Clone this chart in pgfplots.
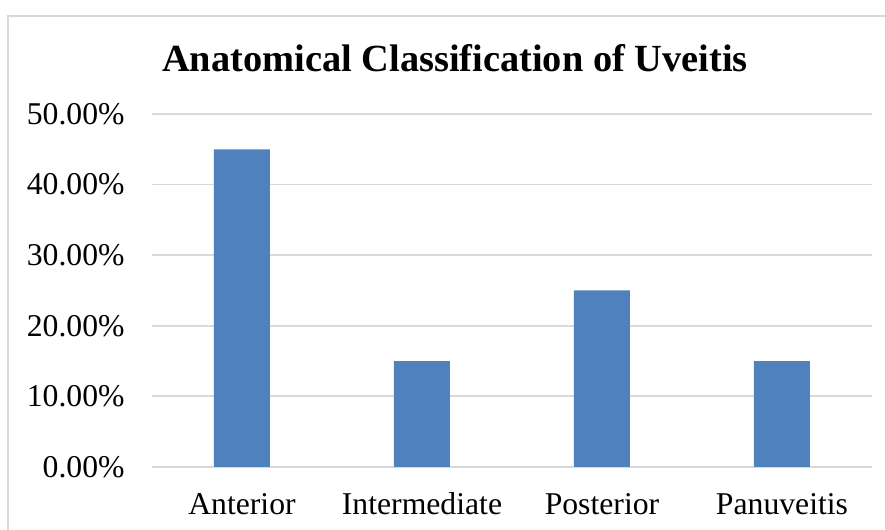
\documentclass[border=0pt]{standalone}
\usepackage{pgfplots}
\pgfplotsset{compat=1.18}
\usepackage{fontspec}
\setmainfont{Liberation Serif}
\definecolor{barblue}{HTML}{4F81BD}
\definecolor{gridgray}{HTML}{D9D9D9}
\begin{document}
\begin{tikzpicture}
\begin{axis}[
  at={(0,0)}, anchor=south west,
  scale only axis, width=360pt, height=176.5pt,
  xmin=-0.5, xmax=3.5, ymin=0, ymax=50,
  axis line style={draw=none},
  major tick length=0pt,
  xtick={0,1,2,3},
  xticklabels={Anterior,Intermediate,Posterior,Panuveitis},
  ytick={0,10,20,30,40,50},
  yticklabels={0.00\%,10.00\%,20.00\%,30.00\%,40.00\%,50.00\%},
  ymajorgrids, grid style={gridgray, line width=0.9pt},
  tick label style={font=\fontsize{15.85}{19}\selectfont},
  yticklabel style={anchor=east, inner sep=0pt, xshift=-13.5pt},
  xticklabel style={anchor=base, inner sep=0pt, yshift=-24pt},
  ybar, bar width=28pt,
  clip=false,
]
\addplot[fill=barblue, draw=none] coordinates {(0,45) (1,15) (2,25) (3,15)};
\end{axis}
\node[anchor=base, inner sep=0pt, font=\fontsize{19.2}{23}\selectfont\bfseries] at (151.5pt,197.5pt) {Anatomical Classification of Uveitis};
\begin{scope}
\clip (-76pt,-31.5pt) rectangle (366.5pt,233.5pt);
\draw[gridgray, line width=0.75pt] (-72pt,225.5pt) rectangle (380pt,-40pt);
\end{scope}
\pgfresetboundingbox
\useasboundingbox (-76pt,-31.5pt) rectangle (366.5pt,233.5pt);
\end{tikzpicture}
\end{document}
